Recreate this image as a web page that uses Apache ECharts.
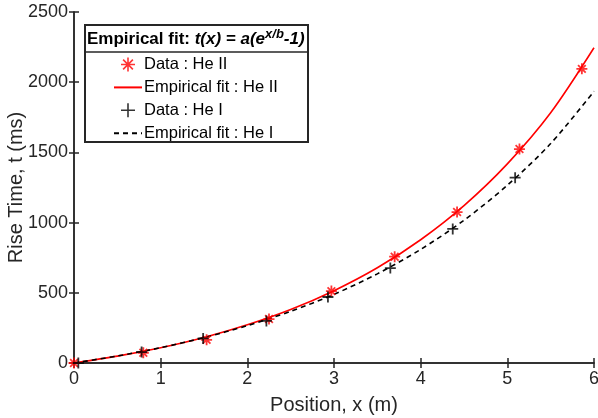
<!DOCTYPE html>
<html><head><meta charset="utf-8">
<script src="https://cdn.jsdelivr.net/npm/echarts@6/dist/echarts.min.js"></script>
<style>html,body{margin:0;padding:0;background:#fff}#c{width:598px;height:418px}</style>
</head><body><div id="c"></div>
<script>
// Data
const heIIx = [0, 0.80, 1.53, 2.25, 2.97, 3.70, 4.42, 5.14, 5.86];
const heIIy = [0, 73, 165, 313, 512, 757, 1075, 1524, 2095];
const heIx = [0.05, 0.78, 1.49, 2.22, 2.93, 3.65, 4.37, 5.09];
const heIy = [0, 78, 175, 300, 470, 676, 955, 1320];
const fitX = [0, 0.5, 1, 1.5, 2, 2.5, 3, 3.5, 4, 4.5, 5, 5.5, 6];
const fitHeII = [0, 49, 109, 182, 272, 381, 515, 678, 878, 1121, 1418, 1782, 2245];
const fitHeI = [0, 50, 109, 181, 266, 368, 489, 635, 809, 1017, 1266, 1563, 1935];
const xTicks = [0, 1, 2, 3, 4, 5, 6];
const yTicks = [0, 500, 1000, 1500, 2000, 2500];

const zip = (a, b) => a.map((v, i) => [v, b[i]]);
const TXT = '#262626';
const FONT = 'Liberation Sans, Arial, sans-serif';
const star = 'path://M0,5L10,5M5,0L5,10M1.5,1.5L8.5,8.5M8.5,1.5L1.5,8.5';
const plus = 'path://M0,5L10,5M5,0L5,10';

const chart = echarts.init(document.getElementById('c'), null, {renderer: 'canvas'});
const baseAxis = {
  axisLine: {show: true, lineStyle: {color: TXT, width: 1.5}},
  axisTick: {show: true, inside: true, length: 5, lineStyle: {color: TXT, width: 1.5}},
  splitLine: {show: false},
  axisLabel: {color: TXT, fontSize: 18, fontFamily: FONT, formatter: v => String(v)}
};
chart.setOption({
  animation: false,
  textStyle: {fontFamily: FONT},
  grid: {left: 74, right: 4, top: 12, bottom: 55, containLabel: false, outerBoundsMode: 'none'},
  xAxis: [
    Object.assign({}, baseAxis, {type: 'value', min: xTicks[0], max: xTicks[xTicks.length - 1], interval: 1,
      name: 'Position, x (m)', nameLocation: 'middle', nameGap: 32, nameMoveOverlap: false,
      nameTextStyle: {color: TXT, fontSize: 20, fontFamily: FONT},
      axisLabel: Object.assign({}, baseAxis.axisLabel, {margin: 7})}),
    Object.assign({}, baseAxis, {type: 'value', position: 'top', min: 0, max: 6, interval: 1,
      axisLabel: {show: false}})
  ],
  yAxis: [
    Object.assign({}, baseAxis, {type: 'value', min: yTicks[0], max: yTicks[yTicks.length - 1], interval: 500,
      name: 'Rise Time, t (ms)', nameLocation: 'middle', nameGap: 48, nameMoveOverlap: false,
      nameTextStyle: {color: TXT, fontSize: 20, fontFamily: FONT},
      axisLabel: Object.assign({}, baseAxis.axisLabel, {margin: 6})}),
    Object.assign({}, baseAxis, {type: 'value', position: 'right', min: 0, max: 2500, interval: 500,
      axisLabel: {show: false}})
  ],
  legend: {
    orient: 'vertical', left: 108, top: 50, itemWidth: 28, itemHeight: 14, itemGap: 4.9, z: 60,
    textStyle: {color: '#000', fontSize: 16.5, fontFamily: FONT, padding: [0, 0, 0, -3]},
    data: [
      {name: 'Data : He II', icon: star, itemStyle: {color: 'none', borderColor: '#ff0000', borderWidth: 1.6}},
      {name: 'Empirical fit : He II', itemStyle: {opacity: 0}},
      {name: 'Data : He I', icon: plus, itemStyle: {color: 'none', borderColor: '#000', borderWidth: 1.6}},
      {name: 'Empirical fit : He I', itemStyle: {opacity: 0}}
    ]
  },
  graphic: [
    {type: 'rect', left: 84, top: 24, z: 50, shape: {width: 223, height: 117},
     style: {fill: '#fff', stroke: TXT, lineWidth: 2}},
    {type: 'line', z: 51, shape: {x1: 84, y1: 52, x2: 307, y2: 52}, style: {stroke: TXT, lineWidth: 1.5}},
    {type: 'text', left: 87, top: 28, z: 52, style: {
      text: '{b|Empirical fit: }{i|t(x) = a(e}{s|x/b}{i|-1)}',
      rich: {
        b: {fontWeight: 'bold', fontSize: 17, fill: '#000', fontFamily: FONT},
        i: {fontWeight: 'bold', fontStyle: 'italic', fontSize: 17, fill: '#000', fontFamily: FONT},
        s: {fontWeight: 'bold', fontStyle: 'italic', fontSize: 13, fill: '#000', fontFamily: FONT, verticalAlign: 'top', padding: [0, 0, 10, 0]}
      }}}
  ],
  series: [
    {name: 'Data : He II', type: 'scatter', data: zip(heIIx, heIIy), symbol: star, symbolSize: 11,
     itemStyle: {color: 'none', borderColor: '#ff0000', borderWidth: 1.8}, z: 5},
    {name: 'Empirical fit : He II', type: 'line', data: zip(fitX, fitHeII), smooth: 0.3, showSymbol: false, symbol: 'none',
     lineStyle: {color: '#ff0000', width: 1.6}, itemStyle: {color: '#ff0000'}, z: 3},
    {name: 'Data : He I', type: 'scatter', data: zip(heIx, heIy), symbol: plus, symbolSize: 11,
     itemStyle: {color: 'none', borderColor: '#000', borderWidth: 1.8}, z: 6},
    {name: 'Empirical fit : He I', type: 'line', data: zip(fitX, fitHeI), smooth: 0.3, showSymbol: false, symbol: 'none',
     lineStyle: {color: '#000', width: 1.6, type: [5, 4]}, itemStyle: {color: '#000'}, z: 4}
  ]
});
</script></body></html>
